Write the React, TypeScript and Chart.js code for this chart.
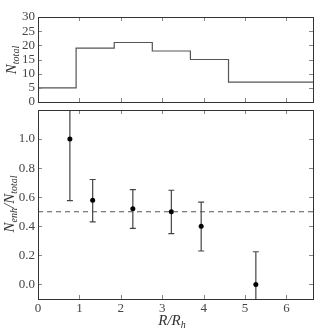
import React, { useEffect, useRef } from "react";
import { Chart, registerables } from "chart.js";
Chart.register(...registerables);

// Top panel: histogram of N_total
const binEdges = [0, 0.92, 1.84, 2.76, 3.68, 4.6, 6.64];
const binCounts = [5, 19, 21, 18, 15, 7];
const topYTicks = [0, 5, 10, 15, 20, 25, 30];

// Bottom panel: N_enh / N_total with error bars
const ratioX = [0.77, 1.32, 2.29, 3.22, 3.94, 5.26];
const ratioY = [1.0, 0.58, 0.52, 0.5, 0.4, 0.0];
const errLow = [0.577, 0.43, 0.386, 0.35, 0.23, -0.23];
const errHigh = [1.423, 0.722, 0.652, 0.648, 0.566, 0.225];
const refLevel = 0.5;
const xTicks = [0, 1, 2, 3, 4, 5, 6];
const bottomYTicks = [0.0, 0.2, 0.4, 0.6, 0.8, 1.0];

const X_MIN = 0;
const X_MAX = 6.64;
const SIZE = 334;
const LEFT_W = 38;
const RIGHT_PAD = 21;
const TEXT = "#444";
const FONT = "'Liberation Serif', 'DejaVu Serif', serif";

type Part = { t: string; sub?: boolean };

function drawRich(ctx: CanvasRenderingContext2D, parts: Part[], cx: number, cy: number, rot: number) {
  ctx.save();
  ctx.translate(cx, cy);
  ctx.rotate(rot);
  ctx.fillStyle = "#333";
  ctx.textBaseline = "alphabetic";
  ctx.textAlign = "left";
  const big = `italic 15px ${FONT}`;
  const small = `italic 10px ${FONT}`;
  let total = 0;
  const widths = parts.map((p) => {
    ctx.font = p.sub ? small : big;
    const w = ctx.measureText(p.t).width;
    total += w;
    return w;
  });
  let x = -total / 2;
  parts.forEach((p, i) => {
    ctx.font = p.sub ? small : big;
    ctx.fillText(p.t, x, p.sub ? 7 : 4);
    x += widths[i];
  });
  ctx.restore();
}

function framePlugin(id: string) {
  return {
    id,
    afterDraw(chart: any) {
      const { ctx, chartArea: a, scales } = chart;
      ctx.save();
      ctx.strokeStyle = "#888";
      ctx.lineWidth = 1;
      const L = 4;
      ctx.beginPath();
      scales.x.ticks.forEach((t: any) => {
        const px = Math.round(scales.x.getPixelForValue(t.value)) + 0.5;
        ctx.moveTo(px, a.bottom);
        ctx.lineTo(px, a.bottom - L);
        ctx.moveTo(px, a.top);
        ctx.lineTo(px, a.top + L);
      });
      scales.y.ticks.forEach((t: any) => {
        const py = Math.round(scales.y.getPixelForValue(t.value)) + 0.5;
        ctx.moveTo(a.left, py);
        ctx.lineTo(a.left + L, py);
        ctx.moveTo(a.right, py);
        ctx.lineTo(a.right - L, py);
      });
      ctx.stroke();
      ctx.strokeStyle = "#333";
      ctx.strokeRect(Math.round(a.left) + 0.5, Math.round(a.top) + 0.5, Math.round(a.right - a.left), Math.round(a.bottom - a.top));
      ctx.restore();
    },
  };
}

const errorBarPlugin = {
  id: "errbars",
  beforeDatasetsDraw(chart: any) {
    const { ctx, chartArea: a, scales } = chart;
    ctx.save();
    ctx.beginPath();
    ctx.rect(a.left, a.top, a.right - a.left, a.bottom - a.top);
    ctx.clip();
    ctx.strokeStyle = "#444";
    ctx.lineWidth = 1.2;
    ratioX.forEach((xv, i) => {
      const px = scales.x.getPixelForValue(xv);
      const lo = scales.y.getPixelForValue(errLow[i]);
      const hi = scales.y.getPixelForValue(errHigh[i]);
      ctx.beginPath();
      ctx.moveTo(px, lo);
      ctx.lineTo(px, hi);
      ctx.moveTo(px - 3, lo);
      ctx.lineTo(px + 3, lo);
      ctx.moveTo(px - 3, hi);
      ctx.lineTo(px + 3, hi);
      ctx.stroke();
    });
    ctx.restore();
  },
};

const topLabelPlugin = {
  id: "toplabel",
  afterDraw(chart: any) {
    drawRich(chart.ctx, [{ t: "N" }, { t: "total", sub: true }], 12, 60, -Math.PI / 2);
  },
};

const bottomLabelPlugin = {
  id: "bottomlabel",
  afterDraw(chart: any) {
    drawRich(
      chart.ctx,
      [{ t: "N" }, { t: "enh", sub: true }, { t: "/N" }, { t: "total", sub: true }],
      10,
      204,
      -Math.PI / 2
    );
    drawRich(chart.ctx, [{ t: "R/R" }, { t: "h", sub: true }], 172, 321, 0);
  },
};

const tickFont = { family: FONT, size: 13 };

export default function App() {
  const topRef = useRef<HTMLCanvasElement>(null);
  const botRef = useRef<HTMLCanvasElement>(null);

  useEffect(() => {
    const stepData = binEdges.map((e, i) => ({ x: e, y: binCounts[Math.min(i, binCounts.length - 1)] }));
    const top = new Chart(topRef.current!, {
      type: "line",
      data: {
        datasets: [
          {
            data: stepData,
            stepped: "before",
            borderColor: "#555",
            borderWidth: 1.2,
            pointRadius: 0,
            fill: false,
          },
        ],
      },
      options: {
        animation: false,
        responsive: false,
        devicePixelRatio: 1,
        layout: { padding: { top: 17, right: RIGHT_PAD, left: 0, bottom: 0 } },
        plugins: { legend: { display: false }, tooltip: { enabled: false } },
        scales: {
          x: {
            type: "linear",
            min: X_MIN,
            max: X_MAX,
            grid: { display: false, drawTicks: false },
            border: { display: false },
            ticks: { display: false },
            afterBuildTicks: (s: any) => {
              s.ticks = xTicks.map((v) => ({ value: v }));
            },
            afterFit: (s: any) => {
              s.height = SIZE - 102;
            },
          },
          y: {
            min: 0,
            max: 30,
            grid: { display: false, drawTicks: false },
            border: { display: false },
            ticks: { font: tickFont, color: TEXT, padding: 3, autoSkip: false },
            afterBuildTicks: (s: any) => {
              s.ticks = topYTicks.map((v) => ({ value: v }));
            },
            afterFit: (s: any) => {
              s.width = LEFT_W;
            },
          },
        },
      },
      plugins: [framePlugin("frameTop"), topLabelPlugin],
    } as any);

    const bottom = new Chart(botRef.current!, {
      type: "scatter",
      data: {
        datasets: [
          {
            type: "line",
            data: [
              { x: X_MIN, y: refLevel },
              { x: X_MAX, y: refLevel },
            ],
            borderColor: "#555",
            borderWidth: 1.2,
            borderDash: [5, 4],
            pointRadius: 0,
            fill: false,
          },
          {
            data: ratioX.map((x, i) => ({ x, y: ratioY[i] })),
            backgroundColor: "#000",
            borderColor: "#000",
            pointRadius: 2.5,
            borderWidth: 0,
          },
        ],
      },
      options: {
        animation: false,
        responsive: false,
        devicePixelRatio: 1,
        layout: { padding: { top: 110, right: RIGHT_PAD, left: 0, bottom: 0 } },
        plugins: { legend: { display: false }, tooltip: { enabled: false } },
        scales: {
          x: {
            type: "linear",
            min: X_MIN,
            max: X_MAX,
            grid: { display: false, drawTicks: false },
            border: { display: false },
            ticks: { font: tickFont, color: TEXT, padding: 2, autoSkip: false, maxRotation: 0 },
            afterBuildTicks: (s: any) => {
              s.ticks = xTicks.map((v) => ({ value: v }));
            },
            afterFit: (s: any) => {
              s.height = SIZE - 299;
            },
          },
          y: {
            min: -0.1,
            max: 1.2,
            grid: { display: false, drawTicks: false },
            border: { display: false },
            ticks: {
              font: tickFont,
              color: TEXT,
              padding: 3,
              autoSkip: false,
              callback: (v: any) => Number(v).toFixed(1),
            },
            afterBuildTicks: (s: any) => {
              s.ticks = bottomYTicks.map((v) => ({ value: v }));
            },
            afterFit: (s: any) => {
              s.width = LEFT_W;
            },
          },
        },
      },
      plugins: [errorBarPlugin, framePlugin("frameBottom"), bottomLabelPlugin],
    } as any);

    return () => {
      top.destroy();
      bottom.destroy();
    };
  }, []);

  const canvasStyle: React.CSSProperties = {
    position: "absolute",
    left: 0,
    top: 0,
    width: SIZE,
    height: SIZE,
  };

  return (
    <div style={{ position: "fixed", left: 0, top: 0, width: SIZE, height: SIZE, background: "#fff" }}>
      <canvas ref={topRef} width={SIZE} height={SIZE} style={canvasStyle} />
      <canvas ref={botRef} width={SIZE} height={SIZE} style={canvasStyle} />
    </div>
  );
}
